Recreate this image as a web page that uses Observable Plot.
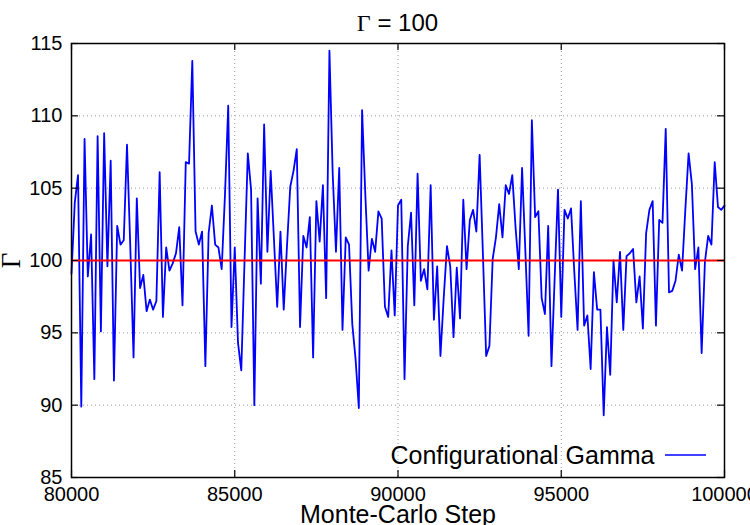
<!DOCTYPE html>
<html>
<head>
<meta charset="utf-8">
<script src="https://cdn.jsdelivr.net/npm/d3@7"></script>
<script src="https://cdn.jsdelivr.net/npm/@observablehq/plot@0.6"></script>
<style>
html, body { margin: 0; padding: 0; background: #fff; overflow: hidden; }
</style>
</head>
<body>
<div id="chart"></div>
<script>
// ---- data ----
const titleSymbol = "Γ";
const titleRest = " = 100";
const xLabel = "Monte-Carlo Step";
const yLabel = "Γ";
const seriesName = "Configurational Gamma";
const referenceValue = 100;
const xTicks = [80000, 85000, 90000, 95000, 100000];
const yTicks = [85, 90, 95, 100, 105, 110, 115];
const firstStep = 80000;
const stepSize = 100;
const gammaValues = [
  99.1, 104.0, 105.9, 89.9, 108.4, 98.9, 101.8, 91.8, 108.6, 95.1,
  108.8, 99.6, 106.9, 91.7, 102.4, 101.1, 101.4, 108.0, 101.0, 93.3,
  104.3, 98.1, 99.0, 96.5, 97.3, 96.6, 97.2, 106.1, 96.1, 100.9,
  99.3, 99.8, 100.5, 102.3, 96.9, 106.8, 106.7, 113.8, 102.0, 101.1,
  102.0, 92.7, 101.9, 103.8, 101.1, 100.9, 99.4, 104.5, 110.7, 95.4,
  100.9, 94.3, 92.4, 100.0, 107.4, 104.9, 90.0, 104.3, 98.4, 109.4,
  100.6, 106.2, 101.5, 96.8, 102.0, 96.6, 101.0, 105.1, 106.2, 107.7,
  95.4, 101.7, 100.9, 103.0, 93.3, 104.1, 101.3, 105.2, 97.4, 114.5,
  106.0, 100.6, 106.4, 95.2, 101.6, 101.1, 95.6, 93.2, 89.8, 110.4,
  104.5, 99.3, 101.5, 100.6, 103.4, 102.9, 96.8, 96.1, 100.7, 96.2,
  103.8, 104.2, 91.8, 101.0, 103.3, 96.9, 106.0, 98.6, 99.4, 98.0,
  105.2, 95.9, 99.6, 93.4, 97.4, 101.0, 99.6, 94.7, 99.5, 96.0,
  104.2, 99.4, 102.8, 103.5, 102.0, 107.3, 100.5, 93.4, 94.1, 100.1,
  101.6, 103.9, 101.6, 105.2, 104.6, 105.9, 102.3, 99.4, 106.4, 100.7,
  94.8, 109.7, 103.0, 103.4, 97.4, 96.3, 102.4, 92.7, 98.9, 104.9,
  96.1, 103.5, 102.9, 103.6, 99.2, 95.2, 104.1, 95.5, 96.2, 92.5,
  99.2, 96.6, 96.6, 89.3, 95.4, 92.1, 100.0, 97.1, 100.6, 95.2,
  100.3, 100.5, 100.8, 97.1, 98.9, 95.3, 101.9, 103.5, 104.1, 95.5,
  102.8, 102.6, 109.1, 97.8, 97.9, 98.6, 100.4, 99.3, 103.5, 107.4,
  105.3, 99.4, 100.9, 93.6, 99.9, 101.7, 101.1, 106.8, 103.7, 103.5,
  103.8
];

const data = gammaValues.map((g, i) => ({ step: firstStep + i * stepSize, gamma: g }));

// ---- layout ----
const W = 750, H = 525;
const mL = 71, mR = 26, mT = 43, mB = 48;
const innerW = W - mL - mR;
const innerH = H - mT - mB;
const sans = "'Liberation Sans', Arial, Helvetica, sans-serif";
const serif = "'Liberation Serif', 'Times New Roman', serif";
const tickLen = 7;

const legendSample = () => {
  const g = d3.create("svg:g");
  const x2 = W - mR - 18;
  g.append("line")
    .attr("x1", x2 - 41).attr("x2", x2)
    .attr("y1", H - mB - 22).attr("y2", H - mB - 22)
    .attr("stroke", "#0000ff").attr("stroke-width", 1.6);
  return g.node();
};

const titleMark = () => {
  const t = d3.create("svg:text")
    .attr("x", mL + innerW / 2)
    .attr("y", 31)
    .attr("text-anchor", "middle")
    .attr("font-size", 24)
    .attr("fill", "black");
  t.append("tspan").attr("font-family", serif).text(titleSymbol);
  t.append("tspan").attr("font-family", sans).text(titleRest);
  return t.node();
};

const chart = Plot.plot({
  width: W,
  height: H,
  marginLeft: mL,
  marginRight: mR,
  marginTop: mT,
  marginBottom: mB,
  style: { fontFamily: sans, color: "black", background: "white", overflow: "visible" },
  x: { domain: [xTicks[0], xTicks[xTicks.length - 1]] },
  y: { domain: [yTicks[0], yTicks[yTicks.length - 1]] },
  marks: [
    Plot.gridX(xTicks.slice(1, -1), { stroke: "#9a9a9a", strokeOpacity: 1, strokeWidth: 1, strokeDasharray: "1,3" }),
    Plot.gridY(yTicks.slice(1, -1), { stroke: "#9a9a9a", strokeOpacity: 1, strokeWidth: 1, strokeDasharray: "1,3" }),
    Plot.line(data, { x: "step", y: "gamma", stroke: "#0000ff", strokeWidth: 1.8 }),
    Plot.ruleY([referenceValue], { stroke: "#ff0000", strokeWidth: 2 }),
    Plot.frame({ stroke: "black", strokeWidth: 1.5 }),
    Plot.ruleX(xTicks, { x: d => d, insetTop: innerH - tickLen, stroke: "black", strokeWidth: 1.2 }),
    Plot.ruleX(xTicks, { x: d => d, insetBottom: innerH - tickLen, stroke: "black", strokeWidth: 1.2 }),
    Plot.ruleY(yTicks, { y: d => d, insetRight: innerW - tickLen, stroke: "black", strokeWidth: 1.2 }),
    Plot.ruleY(yTicks, { y: d => d, insetLeft: innerW - tickLen, stroke: "black", strokeWidth: 1.2 }),
    Plot.axisX(xTicks, { tickSize: 0, tickPadding: 9, fontSize: 20, tickFormat: d3.format("d"), label: null }),
    Plot.axisY(yTicks, { tickSize: 0, tickPadding: 9, fontSize: 20, label: null }),
    Plot.text([xLabel], { text: d => d, frameAnchor: "bottom", dy: 37, lineAnchor: "middle", textAnchor: "middle", fontSize: 25, fill: "black" }),
    Plot.text([yLabel], { text: d => d, frameAnchor: "left", dx: -60, rotate: -90, lineAnchor: "middle", textAnchor: "middle", fontSize: 27, fontFamily: serif, fill: "black" }),
    Plot.text([seriesName], { text: d => d, frameAnchor: "bottom-right", dx: -70, dy: -22, lineAnchor: "middle", textAnchor: "end", fontSize: 25, fill: "black" }),
    legendSample,
    titleMark
  ]
});

document.getElementById("chart").appendChild(chart);
</script>
</body>
</html>
